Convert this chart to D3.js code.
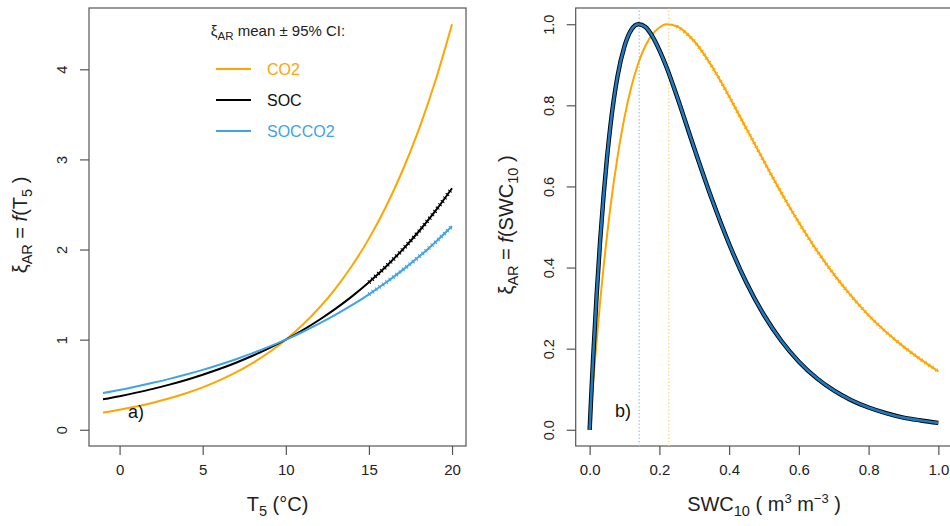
<!DOCTYPE html>
<html>
<head>
<meta charset="utf-8">
<script src="https://cdn.jsdelivr.net/npm/d3@7"></script>
<style>
  body { margin: 0; background: #fff; }
  svg { display: block; font-family: "Liberation Sans", Arial, sans-serif; }
  .box { fill: none; stroke: #555; stroke-width: 1.2; }
  .tick line { stroke: #555; stroke-width: 1.2; }
  .tick text { fill: #222; font-size: 15px; }
  .axis-title { fill: #222; font-size: 20px; }
</style>
</head>
<body>
<svg id="chart" width="950" height="526"></svg>
<script>
// Panel a: response to soil temperature T5
const tempC = [-1, 0, 1, 2, 3, 4, 5, 6, 7, 8, 9, 10, 11, 12, 13, 14, 15, 16, 17, 18, 19, 20];
const co2T = [0.191, 0.222, 0.258, 0.300, 0.349, 0.406, 0.471, 0.548, 0.637, 0.740, 0.860, 1.000,
              1.162, 1.351, 1.570, 1.825, 2.121, 2.466, 2.866, 3.331, 3.872, 4.500];
const socT = [0.338, 0.373, 0.412, 0.454, 0.501, 0.553, 0.611, 0.674, 0.744, 0.821, 0.906, 1.000,
              1.104, 1.218, 1.344, 1.483, 1.637, 1.807, 1.994, 2.200, 2.428, 2.680];
const soccoT = [0.408, 0.442, 0.480, 0.521, 0.565, 0.613, 0.665, 0.722, 0.783, 0.850, 0.922, 1.000,
                1.085, 1.177, 1.277, 1.385, 1.503, 1.631, 1.769, 1.919, 2.082, 2.259];

// Panel b: response to soil water content SWC10
const swc = [0, 0.005, 0.01, 0.02, 0.03, 0.04, 0.05, 0.06, 0.08, 0.10, 0.12, 0.14, 0.16, 0.18, 0.20,
             0.22, 0.25, 0.30, 0.35, 0.40, 0.45, 0.50, 0.55, 0.60, 0.65, 0.70, 0.75, 0.80, 0.85, 0.90, 0.95, 1.00];
const co2W = [0, 0.059, 0.115, 0.219, 0.315, 0.402, 0.480, 0.552, 0.673, 0.771, 0.847, 0.905, 0.947, 0.975, 0.992,
              1.000, 0.995, 0.958, 0.897, 0.822, 0.742, 0.662, 0.584, 0.511, 0.444, 0.384, 0.330, 0.282, 0.241, 0.205, 0.173, 0.144];
const socW = [0, 0.092, 0.178, 0.332, 0.465, 0.578, 0.673, 0.753, 0.872, 0.946, 0.987, 1.000, 0.993, 0.970, 0.936,
              0.895, 0.823, 0.694, 0.570, 0.458, 0.362, 0.283, 0.219, 0.168, 0.128, 0.097, 0.073, 0.055, 0.041, 0.030, 0.023, 0.017];
const soccoW = [0, 0.092, 0.178, 0.332, 0.465, 0.578, 0.673, 0.753, 0.872, 0.946, 0.987, 1.000, 0.993, 0.970, 0.936,
                0.895, 0.823, 0.694, 0.570, 0.458, 0.362, 0.283, 0.219, 0.168, 0.128, 0.097, 0.073, 0.055, 0.041, 0.030, 0.023, 0.017];
const optimaW = [0.142, 0.227]; // SOC/SOCCO2 optimum, CO2 optimum

const seriesNames = ["CO2", "SOC", "SOCCO2"];
const colors = { CO2: "#FFA500", SOC: "#000000", SOCCO2: "#41a3e6" };

const svg = d3.select("#chart");

// ---------- panel a ----------
const xa = d3.scaleLinear().domain([-1.84, 20.84]).range([89, 466]);
const ya = d3.scaleLinear().domain([-0.18, 4.68]).range([446, 8]);

function drawFrame(x, y, xTicks, yTicks, xFmt, yFmt) {
    const g = svg.append("g");
    g.append("rect").attr("class", "box")
        .attr("x", x.range()[0]).attr("y", y.range()[1])
        .attr("width", x.range()[1] - x.range()[0])
        .attr("height", y.range()[0] - y.range()[1]);

    const ax = g.append("g").attr("transform", `translate(0,${y.range()[0]})`)
        .call(d3.axisBottom(x).tickValues(xTicks).tickFormat(xFmt).tickSize(9).tickPadding(9));
    ax.select(".domain").remove();

    const ay = g.append("g").attr("transform", `translate(${x.range()[0]},0)`)
        .call(d3.axisLeft(y).tickValues(yTicks).tickFormat(yFmt).tickSize(9));
    ay.select(".domain").remove();
    ay.selectAll("text")
        .attr("transform", "rotate(-90)")
        .attr("x", 0).attr("y", -22).attr("dy", null)
        .attr("text-anchor", "middle")
        .style("font-size", "14.5px");
    return g;
}

drawFrame(xa, ya, [0, 5, 10, 15, 20], [0, 1, 2, 3, 4], d3.format("d"), d3.format("d"));

const lineA = vals => d3.line()
    .x((d, i) => xa(tempC[i]))
    .y(d => ya(d))
    .curve(d3.curveMonotoneX)(vals);

const panelA = [
    { name: "CO2", vals: co2T },
    { name: "SOC", vals: socT },
    { name: "SOCCO2", vals: soccoT }
];
panelA.forEach(s => {
    svg.append("path")
        .attr("d", lineA(s.vals))
        .attr("fill", "none")
        .attr("stroke", colors[s.name])
        .attr("stroke-width", 2);
});

// small CI bars visible on the warm end of SOC and SOCCO2
[["SOC", socT], ["SOCCO2", soccoT]].forEach(([name, vals]) => {
    const pts = tempC.map((t, i) => [t, vals[i]]).filter(p => p[0] >= 15);
    svg.append("path")
        .attr("d", d3.line().x(p => xa(p[0])).y(p => ya(p[1])).curve(d3.curveMonotoneX)(pts))
        .attr("fill", "none")
        .attr("stroke", colors[name])
        .attr("stroke-width", 4.5)
        .attr("stroke-dasharray", "1 3.2");
});

// legend
const leg = svg.append("g");
const legTitle = leg.append("text").attr("x", 278).attr("y", 36)
    .attr("text-anchor", "middle").style("font-size", "15px").attr("fill", "#222");
legTitle.append("tspan").text("ξ");
legTitle.append("tspan").attr("dy", 4).style("font-size", "11.5px").text("AR");
legTitle.append("tspan").attr("dy", -4).text(" mean ± 95% CI:");

seriesNames.forEach((name, i) => {
    const yy = 69 + i * 31;
    leg.append("line").attr("x1", 216).attr("x2", 251).attr("y1", yy).attr("y2", yy)
        .attr("stroke", colors[name]).attr("stroke-width", 2);
    leg.append("text").attr("x", 267).attr("y", yy + 6)
        .style("font-size", "16px")
        .attr("fill", name === "SOC" ? "#111" : colors[name])
        .text(name);
});

svg.append("text").attr("x", 128).attr("y", 418).style("font-size", "18px").attr("fill", "#111").text("a)");

// axis titles panel a
const xtA = svg.append("text").attr("class", "axis-title")
    .attr("x", 277.5).attr("y", 511).attr("text-anchor", "middle");
xtA.append("tspan").text("T");
xtA.append("tspan").attr("dy", 5).style("font-size", "14.5px").text("5");
xtA.append("tspan").attr("dy", -5).text(" (°C)");

function yTitle(x, sub) {
    const t = svg.append("text").attr("class", "axis-title")
        .attr("transform", `translate(${x},225) rotate(-90)`)
        .attr("text-anchor", "middle");
    t.append("tspan").text("ξ");
    t.append("tspan").attr("dy", 5).style("font-size", "14.5px").text("AR");
    t.append("tspan").attr("dy", -5).text(" = ");
    t.append("tspan").style("font-style", "italic").text("f");
    t.append("tspan").text("(" + sub[0]);
    t.append("tspan").attr("dy", 5).style("font-size", "14.5px").text(sub[1]);
    t.append("tspan").attr("dy", -5).text(" )");
}
yTitle(27, ["T", "5"]);

// ---------- panel b ----------
const xb = d3.scaleLinear().domain([-0.04, 1.04]).range([575.7, 952.3]);
const yb = d3.scaleLinear().domain([-0.04, 1.04]).range([446, 8]);

drawFrame(xb, yb, [0, 0.2, 0.4, 0.6, 0.8, 1.0], [0, 0.2, 0.4, 0.6, 0.8, 1.0], d3.format(".1f"), d3.format(".1f"));

// dotted optimum markers
const optColors = ["#9cc2e4", "#ffd27f"];
optimaW.forEach((v, i) => {
    svg.append("line")
        .attr("x1", xb(v)).attr("x2", xb(v))
        .attr("y1", yb.range()[0]).attr("y2", yb.range()[1])
        .attr("stroke", optColors[i]).attr("stroke-width", 1.2)
        .attr("stroke-dasharray", "1.5 2");
});

const lineB = vals => d3.line()
    .x((d, i) => xb(swc[i]))
    .y(d => yb(d))
    .curve(d3.curveMonotoneX)(vals);

svg.append("path").attr("d", lineB(co2W))
    .attr("fill", "none").attr("stroke", colors.CO2).attr("stroke-width", 2);
// CI ticks along CO2 curve
svg.append("path")
    .attr("d", d3.line().x(p => xb(p[0])).y(p => yb(p[1])).curve(d3.curveMonotoneX)(
        swc.map((s, i) => [s, co2W[i]]).filter(p => p[0] >= 0.25)))
    .attr("fill", "none").attr("stroke", colors.CO2)
    .attr("stroke-width", 4).attr("stroke-dasharray", "1 3.4");

svg.append("path").attr("d", lineB(socW))
    .attr("fill", "none").attr("stroke", colors.SOC).attr("stroke-width", 4.4);
svg.append("path").attr("d", lineB(soccoW))
    .attr("fill", "none").attr("stroke", "#1f7bc0").attr("stroke-width", 2.6);

svg.append("text").attr("x", 615).attr("y", 417).style("font-size", "18px").attr("fill", "#111").text("b)");

const xtB = svg.append("text").attr("class", "axis-title")
    .attr("x", 764).attr("y", 511).attr("text-anchor", "middle");
xtB.append("tspan").text("SWC");
xtB.append("tspan").attr("dy", 5).style("font-size", "14.5px").text("10");
xtB.append("tspan").attr("dy", -5).text(" ( m");
xtB.append("tspan").attr("dy", -8).style("font-size", "13px").text("3");
xtB.append("tspan").attr("dy", 8).text(" m");
xtB.append("tspan").attr("dy", -8).style("font-size", "13px").text("−3");
xtB.append("tspan").attr("dy", 8).text(" )");

yTitle(513, ["SWC", "10"]);
</script>
</body>
</html>
